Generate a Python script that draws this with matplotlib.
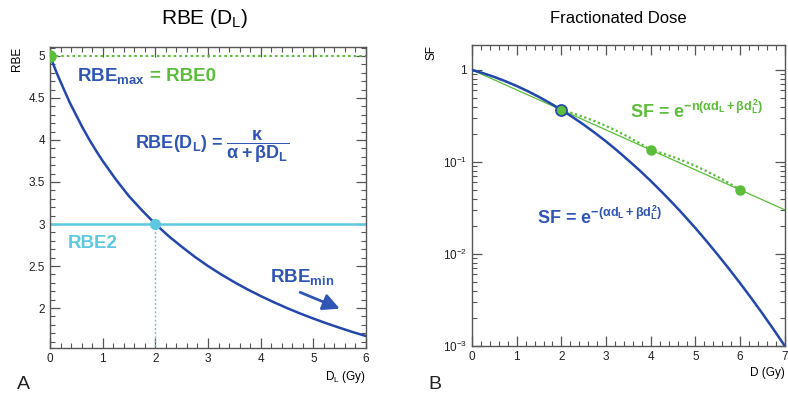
import math
import matplotlib
matplotlib.use("Agg")
import matplotlib.pyplot as plt
from matplotlib.ticker import MultipleLocator, FixedLocator, FuncFormatter, LogLocator, NullFormatter

plt.rcParams['font.family'] = ['Liberation Sans', 'DejaVu Sans']
plt.rcParams['mathtext.fontset'] = 'custom'
plt.rcParams['mathtext.rm'] = 'Liberation Sans:bold'
plt.rcParams['mathtext.it'] = 'Liberation Sans:bold'
plt.rcParams['mathtext.bf'] = 'Liberation Sans:bold'
plt.rcParams['mathtext.sf'] = 'Liberation Sans:bold'

# ---- data: panel A ----
dose_L = [0, 0.125, 0.25, 0.375, 0.5, 0.625, 0.75, 0.875, 1, 1.25, 1.5, 1.75, 2,
          2.25, 2.5, 2.75, 3, 3.25, 3.5, 3.75, 4, 4.25, 4.5, 4.75, 5, 5.25, 5.5, 5.75, 6]
rbe_L = [5.0, 4.8, 4.62, 4.444, 4.29, 4.138, 4.0, 3.871, 3.75, 3.53, 3.33, 3.16, 3.0,
         2.857, 2.73, 2.609, 2.5, 2.4, 2.308, 2.222, 2.143, 2.069, 2.0, 1.935, 1.875,
         1.818, 1.765, 1.714, 1.667]
rbe_max = 5.0
rbe2 = 3.0
dose_ref = 2.0

# ---- data: panel B ----
dose_single = [0, 0.25, 0.5, 0.75, 1, 1.25, 1.5, 1.75, 2, 2.25, 2.5, 2.75, 3, 3.25, 3.5,
               3.75, 4, 4.25, 4.5, 4.75, 5, 5.25, 5.5, 5.75, 6, 6.25, 6.5, 6.75, 7]
sf_single = [1.0, 0.921, 0.838, 0.753, 0.669, 0.587, 0.508, 0.435, 0.368, 0.3075, 0.254,
             0.207, 0.167, 0.1327, 0.104, 0.081, 0.0622, 0.0471, 0.0353, 0.0261, 0.0191,
             0.01376, 0.0098, 0.00691, 0.00481, 0.00331, 0.00225, 0.00151, 0.001]
dose_frac = [0, 0.25, 0.5, 0.75, 1, 1.25, 1.5, 1.75, 2, 2.25, 2.5, 2.75, 3, 3.25, 3.5,
             3.75, 4, 4.25, 4.5, 4.75, 5, 5.25, 5.5, 5.75, 6]
sf_frac = [1.0, 0.921, 0.838, 0.753, 0.669, 0.587, 0.508, 0.435, 0.368, 0.339, 0.308,
           0.277, 0.246, 0.216, 0.187, 0.160, 0.135, 0.1247, 0.1135, 0.102, 0.0906,
           0.0795, 0.0688, 0.0589, 0.0498]
dose_line = [0, 2, 4, 6, 7]
sf_line = [1.0, 0.368, 0.135, 0.0498, 0.0302]
dose_pts = [2, 4, 6]
sf_pts = [0.368, 0.135, 0.0498]

BLUE = '#2347ad'
BLUE_T = '#2f55b5'
GREEN = '#5bbd3a'
CYAN = '#5ec8e2'
SPINE = '#555555'

fig = plt.figure(figsize=(7.88, 4.01), dpi=100)
axA = fig.add_axes([0.0635, 0.132, 0.401, 0.751])
axB = fig.add_axes([0.599, 0.137, 0.397, 0.751])

def style(ax):
    for s in ax.spines.values():
        s.set_color(SPINE)
        s.set_linewidth(1.0)
    ax.tick_params(which='both', direction='in', top=True, right=True,
                   colors=SPINE, labelcolor='#222222', labelsize=8.5)
    ax.tick_params(which='major', length=7, width=0.9)
    ax.tick_params(which='minor', length=3.5, width=0.8)

# ---- panel A ----
style(axA)
axA.plot(dose_L, rbe_L, color=BLUE, lw=1.8, zorder=3)
axA.axhline(rbe_max, color=GREEN, lw=1.5, ls=(0, (1.2, 1.5)), zorder=2)
axA.plot([0], [rbe_max], marker='o', ms=8, color=GREEN, clip_on=True, zorder=4)
axA.axhline(rbe2, color=CYAN, lw=1.8, zorder=2)
axA.plot([dose_ref, dose_ref], [1.0, rbe2], color=CYAN, lw=1.0, ls=(0, (1.5, 1.5)), zorder=2)
axA.plot([dose_ref], [rbe2], marker='o', ms=7, color=CYAN, zorder=4)
axA.set_xlim(0, 6)
axA.set_ylim(1.524, 5.107)
axA.xaxis.set_major_locator(MultipleLocator(1))
axA.xaxis.set_minor_locator(MultipleLocator(0.2))
axA.yaxis.set_major_locator(FixedLocator([2, 2.5, 3, 3.5, 4, 4.5, 5]))
axA.yaxis.set_minor_locator(MultipleLocator(0.1))
axA.yaxis.set_major_formatter(FuncFormatter(lambda v, p: ('%g' % v)))
axA.set_ylabel('RBE', loc='top', fontsize=8.5, labelpad=4)
axA.set_xlabel(r'D$_\mathregular{L}$ (Gy)', loc='right', fontsize=8.5, labelpad=3)

axA.text(0.52, 4.76, r'RBE$_{\mathregular{max}}$', color=BLUE_T, fontsize=13.5,
         fontweight='bold', va='center', ha='left')
axA.text(1.9, 4.76, '= RBE0', color=GREEN, fontsize=13.5, fontweight='bold',
         va='center', ha='left')
axA.text(1.62, 3.92, r'RBE(D$_{\mathregular{L}}$) = $\dfrac{\kappa}{\alpha+\beta D_L}$',
         color=BLUE_T, fontsize=13, fontweight='bold', va='center', ha='left')
axA.text(0.33, 2.77, 'RBE2', color=CYAN, fontsize=13.5, fontweight='bold',
         va='center', ha='left')
axA.text(4.17, 2.37, r'RBE$_{\mathregular{min}}$', color=BLUE_T, fontsize=13.5,
         fontweight='bold', va='center', ha='left')
axA.annotate('', xy=(5.55, 1.98), xytext=(4.7, 2.2),
             arrowprops=dict(arrowstyle='-|>,head_length=1.0,head_width=0.5',
                             color=BLUE_T, lw=2.0))

# ---- panel B ----
style(axB)
axB.set_yscale('log')
axB.plot(dose_single, sf_single, color=BLUE, lw=1.8, zorder=3)
axB.plot(dose_line, sf_line, color=GREEN, lw=0.9, zorder=2)
axB.plot(dose_frac, sf_frac, color=GREEN, lw=1.6, ls=(0, (1.0, 1.2)), zorder=2)
axB.plot(dose_pts[:1], sf_pts[:1], 'o', ms=8, color=GREEN, mec=BLUE, mew=1.2, zorder=5)
axB.plot(dose_pts[1:], sf_pts[1:], 'o', ms=6.5, color=GREEN, zorder=5)
axB.set_xlim(0, 7)
axB.set_ylim(1e-3, 1.87)
axB.xaxis.set_major_locator(MultipleLocator(1))
axB.xaxis.set_minor_locator(MultipleLocator(0.2))
axB.yaxis.set_major_locator(FixedLocator([1e-3, 1e-2, 1e-1, 1]))
axB.yaxis.set_minor_locator(LogLocator(base=10, subs=range(2, 10), numticks=20))
axB.yaxis.set_minor_formatter(NullFormatter())

def logfmt(v, p):
    e = int(round(math.log10(v)))
    if e == 0:
        return '1'
    return r'10$^{\mathregular{%d}}$' % e

axB.yaxis.set_major_formatter(FuncFormatter(logfmt))
axB.set_ylabel('SF', loc='top', fontsize=8.5, labelpad=4)
axB.set_xlabel('D (Gy)', loc='right', fontsize=8.5, labelpad=3)

axB.text(3.53, 0.30, r'SF = e$^{-n(\alpha d_L+\beta d_L^2)}$', color=GREEN,
         fontsize=13, fontweight='bold', va='baseline', ha='left')
axB.text(1.45, 0.0213, r'SF = e$^{-(\alpha d_L+\beta d_L^2)}$', color=BLUE_T,
         fontsize=13, fontweight='bold', va='baseline', ha='left')

# titles and panel letters
fig.text(0.26, 0.955, r'RBE (D$_{\mathregular{L}}$)', fontsize=15, ha='center', va='center')
fig.text(0.785, 0.955, 'Fractionated Dose', fontsize=12, ha='center', va='center')
fig.text(0.022, 0.04, 'A', fontsize=14, ha='left', va='center', fontstretch='condensed',
         color='#222222')
fig.text(0.543, 0.04, 'B', fontsize=14, ha='left', va='center', fontstretch='condensed',
         color='#222222')

fig.savefig('out.png', dpi=100)
